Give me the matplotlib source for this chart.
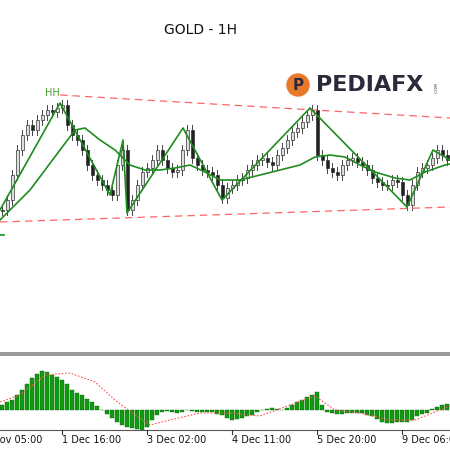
import matplotlib
matplotlib.use("Agg")
import matplotlib.pyplot as plt
import numpy as np

# closes in chart pixel-price units (axis inverted), one candle every 5 px
closes = [210,200,175,150,135,125,130,120,115,110,112,108,105,125,135,140,150,165,175,180,
          185,190,195,165,150,210,200,185,172,168,160,150,160,168,172,170,150,130,158,165,
          170,172,175,185,198,188,185,180,178,170,165,160,158,162,165,155,148,140,132,128,
          122,115,110,155,160,168,172,175,165,160,158,162,165,170,178,182,185,185,180,182,
          195,205,185,172,168,165,158,150,155,160]
zig_x = [0,60,110,123,127,183,222,310,407,433,450]
zig_y = [210,103,195,140,213,128,200,108,207,150,160]
ma_x = [0,30,60,75,85,100,115,130,145,160,175,190,205,220,240,260,280,300,315,330,345,360,375,395,410,425,445,450]
ma_y = [220,190,150,130,128,140,150,165,170,170,168,165,172,180,180,175,170,165,157,155,157,165,172,178,180,172,165,164]
macd = [5,8,10,15,20,26,32,36,39,38,35,33,30,26,20,17,15,11,8,4,
        0,-4,-8,-12,-15,-17,-18,-19,-20,-17,-10,-5,-2,-1,-2,-3,-2,0,-1,-2,
        -2,-2,-2,-4,-5,-8,-10,-9,-8,-6,-5,-2,0,1,2,1,0,2,5,8,
        10,13,15,18,5,-2,-3,-4,-4,-3,-3,-3,-3,-5,-6,-9,-12,-13,-13,-12,
        -12,-12,-10,-6,-4,-3,1,3,5,6]
sig_x = [0,20,45,70,95,115,135,150,170,200,230,260,290,315,335,360,390,415,440,450]
sig_y = [8,15,35,37,28,10,-5,-15,-10,-3,-3,-6,5,14,0,-3,-10,-10,0,4]
tick_pos = [62,147,232,317,402]
tick_labels = ["1 Dec 16:00","3 Dec 02:00","4 Dec 11:00","5 Dec 20:00","9 Dec 06:00"]
first_label = "30 Nov 05:00"

fig = plt.figure(figsize=(4.5,4.5), dpi=100)
ax = fig.add_axes([0,0,1,1])
ax.set_xlim(0,450); ax.set_ylim(450,0); ax.axis("off")

opens = [closes[0]] + closes[:-1]
for i,(o,c) in enumerate(zip(opens,closes)):
    x = i*5+2
    hi = min(o,c)-5; lo = max(o,c)+5
    ax.plot([x,x],[hi,lo],color="#444444",lw=0.7,zorder=2)
    up = c < o
    ax.add_patch(plt.Rectangle((x-1.5,min(o,c)),3,max(abs(c-o),1),
                 facecolor="#dddddd" if up else "#222222",edgecolor="#333333",lw=0.5,zorder=3))

ax.plot(ma_x,ma_y,color="#1e8c1e",lw=1.2,zorder=4)
ax.plot(zig_x,zig_y,color="#1e8c1e",lw=1.2,zorder=5)
ax.plot([60,450],[95,118],color="#ff6666",lw=0.9,ls=(0,(6,4)),zorder=4)
ax.plot([0,450],[222,207],color="#ff6666",lw=0.9,ls=(0,(6,4)),zorder=4)
ax.text(52,93,"HH",color="#4a9a2a",fontsize=7,ha="center",va="center")
ax.plot([0,4],[235,235],color="#1e8c1e",lw=1.2)
ax.text(200,30,"GOLD - 1H",fontsize=10,ha="center",va="center",color="#111111")
ax.text(316,85,"PEDIAFX",fontsize=16,fontweight="bold",ha="left",va="center",color="#2a2a3a")
ax.add_patch(plt.Circle((298,85),11,color="#e8782a"))
ax.text(298,85,"P",fontsize=11,fontweight="bold",ha="center",va="center",color="#2a2a3a")
ax.text(437,88,".COM",fontsize=3,rotation=90,ha="center",va="center",color="#2a2a3a")

ax.add_patch(plt.Rectangle((0,352),450,4,facecolor="#9a9a9a",edgecolor="none"))
ax.plot([0,450],[430,430],color="#555555",lw=0.8)

base = 410
for i,v in enumerate(macd):
    x = i*5+2
    ax.add_patch(plt.Rectangle((x-1.8,base-max(v,0)),3.6,abs(v),facecolor="#119911",edgecolor="#0a6a0a",lw=0.3))
ax.plot(sig_x,[base-v for v in sig_y],color="#ff5555",lw=0.8,ls=(0,(1.5,1.5)))

for t,l in zip(tick_pos,tick_labels):
    ax.plot([t,t],[430,434],color="#333333",lw=0.8)
    ax.text(t,440,l,fontsize=7,ha="left",va="center",color="#111111")
ax.text(-23,440,first_label,fontsize=7,ha="left",va="center",color="#111111")

fig.savefig("out.png",dpi=100)
